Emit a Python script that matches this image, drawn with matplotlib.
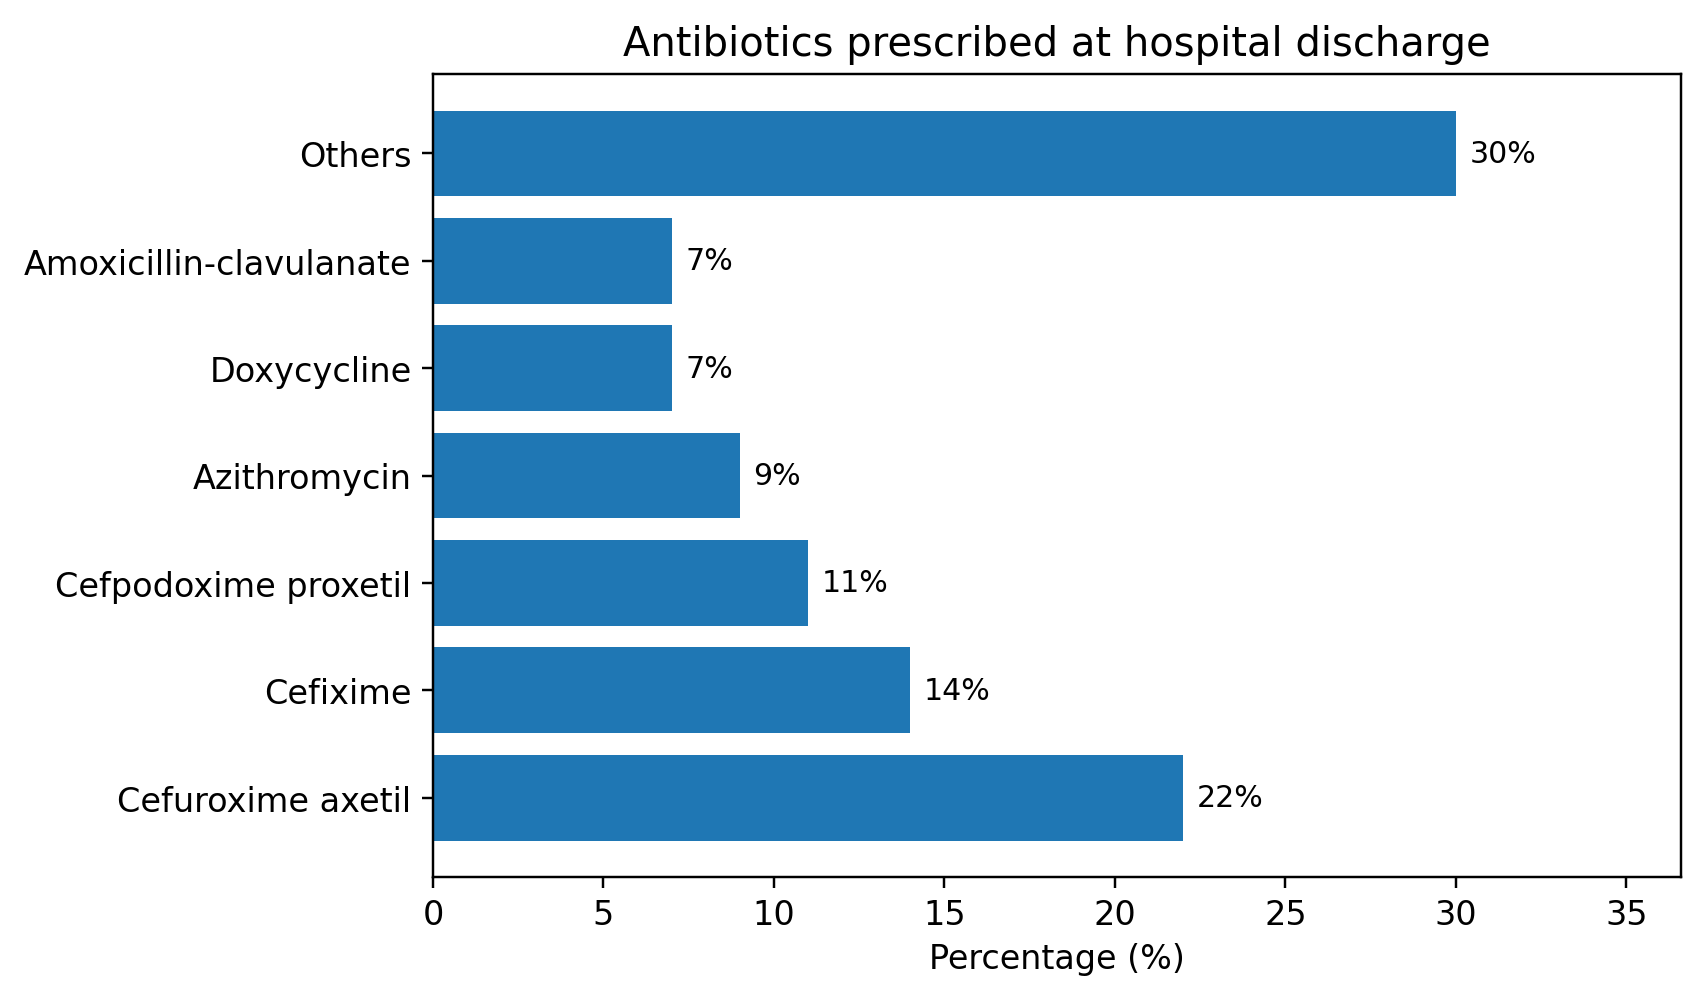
import matplotlib
matplotlib.use("Agg")
import matplotlib.pyplot as plt

categories = ["Cefuroxime axetil", "Cefixime", "Cefpodoxime proxetil", "Azithromycin",
              "Doxycycline", "Amoxicillin-clavulanate", "Others"]
values = [22, 14, 11, 9, 7, 7, 30]

W, H = 1703, 1004
fig = plt.figure(figsize=(W/200, H/200), dpi=200)
ax = fig.add_axes([433/W, 1-878/H, (1681-433)/W, (878-75)/H])
bars = ax.barh(categories, values, color="#1f77b4", height=0.8)
for b, v in zip(bars, values):
    ax.text(v + 0.4, b.get_y() + b.get_height()/2, f"{v}%", va="center", ha="left", fontsize=10.8)
ax.set_xlim(0, max(values) * 1.22)
ax.set_xlabel("Percentage (%)", fontsize=12)
ax.set_title("Antibiotics prescribed at hospital discharge", fontsize=14.4, pad=6.8)
ax.tick_params(labelsize=12.05, length=3.85, width=0.88, pad=3.85)
for s in ax.spines.values():
    s.set_linewidth(0.88)
fig.savefig("out.png", dpi=200)
